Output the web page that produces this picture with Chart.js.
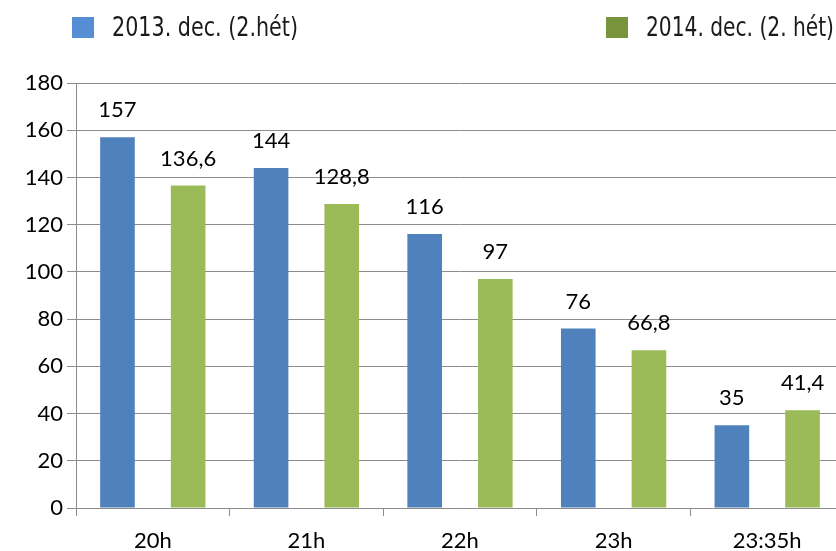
<!DOCTYPE html>
<html>
<head>
<meta charset="utf-8">
<script src="https://cdn.jsdelivr.net/npm/chart.js@4"></script>
<style>
  html, body { margin: 0; padding: 0; background: #fff; overflow: hidden; }
  #wrap { position: relative; width: 846px; height: 551px; }
</style>
</head>
<body>
<div id="wrap"><canvas id="myChart"></canvas></div>
<script>
// data
var labels = ["20h", "21h", "22h", "23h", "23:35h"];
var seriesNames = ["2013. dec. (2.hét)", "2014. dec. (2. hét)"];
var values2013 = [157, 144, 116, 76, 35];
var values2014 = [136.6, 128.8, 97, 66.8, 41.4];
var yTicks = [0, 20, 40, 60, 80, 100, 120, 140, 160, 180];

var barColors = ["#4F81BD", "#9BBB59"];
var legendColors = ["#558ED5", "#77933C"];
var axisFont = { family: "Lato, 'Open Sans', sans-serif", size: 22 };
var gridColor = "#8C8C8C";

// value labels above the bars
var valueLabels = {
  id: "valueLabels",
  afterDatasetsDraw: function (chart) {
    var ctx = chart.ctx;
    ctx.save();
    ctx.font = axisFont.size + "px " + axisFont.family;
    ctx.fillStyle = "#000";
    ctx.textAlign = "center";
    ctx.textBaseline = "middle";
    chart.data.datasets.forEach(function (ds, i) {
      chart.getDatasetMeta(i).data.forEach(function (bar, j) {
        var txt = String(ds.data[j]).replace(".", ",");
        ctx.fillText(txt, bar.x, bar.y - 27);
      });
    });
    ctx.restore();
  }
};

// excel-like legend spread across the top
var topLegend = {
  id: "topLegend",
  afterDraw: function (chart) {
    var ctx = chart.ctx;
    var boxX = [72, 606];
    var textW = [186, 188];
    ctx.save();
    ctx.font = "27px 'DejaVu Sans Condensed', 'DejaVu Sans', sans-serif";
    ctx.textBaseline = "middle";
    ctx.textAlign = "left";
    chart.data.datasets.forEach(function (ds, i) {
      ctx.fillStyle = legendColors[i];
      ctx.fillRect(boxX[i], 17, 22, 21);
      ctx.fillStyle = "#1a1a1a";
      // squeeze to the narrow look of the original font
      ctx.fillText(ds.label, boxX[i] + 40, 29, textW[i]);
    });
    ctx.restore();
  }
};

var ctx = document.getElementById("myChart");
var chart = new Chart(ctx, {
  type: "bar",
  data: {
    labels: labels,
    datasets: [
      {
        label: seriesNames[0],
        data: values2013,
        backgroundColor: barColors[0],
        categoryPercentage: 0.92,
        barPercentage: 0.49
      },
      {
        label: seriesNames[1],
        data: values2014,
        backgroundColor: barColors[1],
        categoryPercentage: 0.92,
        barPercentage: 0.49
      }
    ]
  },
  options: {
    responsive: true,
    maintainAspectRatio: false,
    animation: false,
    layout: { padding: { top: 83, right: 2, left: 0, bottom: 0 } },
    plugins: {
      legend: { display: false },
      tooltip: { enabled: false }
    },
    scales: {
      x: {
        grid: { drawOnChartArea: false, tickLength: 8, color: gridColor },
        border: { color: gridColor },
        ticks: { font: axisFont, color: "#000", padding: 12, maxRotation: 0 },
        afterFit: function (scale) { scale.height = 43; }
      },
      y: {
        min: 0,
        max: 180,
        afterBuildTicks: function (scale) {
          scale.ticks = yTicks.map(function (v) { return { value: v }; });
        },
        grid: { color: gridColor, tickLength: 9 },
        border: { color: gridColor },
        ticks: { font: axisFont, color: "#000", padding: 4 },
        afterFit: function (scale) { scale.width = 76; }
      }
    }
  },
  plugins: [valueLabels, topLegend]
});
</script>
</body>
</html>
